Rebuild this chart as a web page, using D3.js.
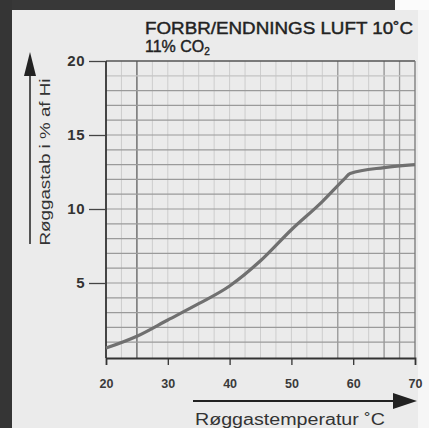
<!DOCTYPE html>
<html>
<head>
<meta charset="utf-8">
<script src="https://cdn.jsdelivr.net/npm/d3@7"></script>
<style>
body{margin:0;padding:0;background:#ececec;}
svg{display:block;font-family:"Liberation Sans",Arial,sans-serif;}
</style>
</head>
<body>
<div id="chart"></div>
<script>
// data
var temps = [20, 25, 30, 35, 40, 45, 50, 55, 58.5, 59.5, 65, 70];
var loss = [0.6, 1.4, 2.5, 3.6, 4.8, 6.5, 8.6, 10.5, 12.0, 12.4, 12.8, 13.0];
var xTicks = [20, 30, 40, 50, 60, 70];
var yTicks = [5, 10, 15, 20];
var title1 = "FORBR/ENDNINGS LUFT 10˚C";
var xTitle = "Røggastemperatur ˚C";
var yTitle = "Røggastab i % af Hi";

var w = 429, h = 428;
var pLeft = 106, pRight = 415, pTop = 61, pBottom = 358;

var svg = d3.select("#chart").append("svg")
  .attr("width", w).attr("height", h);

// page + frame
svg.append("rect").attr("width", w).attr("height", h).attr("fill", "#ebebeb");
svg.append("rect").attr("x", 418).attr("y", 0).attr("width", 11).attr("height", h).attr("fill", "#f6f6f6");
svg.append("rect").attr("x", 0).attr("y", 0).attr("width", 395).attr("height", 10).attr("fill", "#383838");
svg.append("rect").attr("x", 395).attr("y", 0).attr("width", 34).attr("height", 10).attr("fill", "#fbfbfb");
svg.append("rect").attr("x", 0).attr("y", 0).attr("width", 12).attr("height", h).attr("fill", "#353535");

var x = d3.scaleLinear().domain([20, 70]).range([pLeft, pRight]);
var y = d3.scaleLinear().domain([0, 20]).range([357, pTop]);

var g = svg.append("g");

// grid
var vFaint = d3.range(22.5, 70, 2.5);
var vDark = [25, 57.5, 65, 67.5];
g.selectAll(".vf").data(vFaint).enter().append("line")
  .attr("x1", d => x(d)).attr("x2", d => x(d))
  .attr("y1", pTop).attr("y2", pBottom)
  .attr("stroke", "#cdcdcd").attr("stroke-width", 1);
g.selectAll(".vd").data(vDark).enter().append("line")
  .attr("x1", d => x(d)).attr("x2", d => x(d))
  .attr("y1", pTop).attr("y2", pBottom)
  .attr("stroke", d => d == 25 ? "#666" : "#999").attr("stroke-width", 1.3);
g.selectAll(".hl").data(d3.range(1, 20)).enter().append("line")
  .attr("x1", pLeft).attr("x2", pRight)
  .attr("y1", d => y(d)).attr("y2", d => y(d))
  .attr("stroke", d => d == 19 ? "#c4c4c4" : "#9a9a9a").attr("stroke-width", 1.2);

// frame of plot
g.append("line").attr("x1", pLeft).attr("x2", pRight).attr("y1", pTop).attr("y2", pTop)
  .attr("stroke", "#555").attr("stroke-width", 1.5);
g.append("line").attr("x1", pRight).attr("x2", pRight).attr("y1", pTop).attr("y2", pBottom)
  .attr("stroke", "#777").attr("stroke-width", 1.3);

// axes
var xAxis = d3.axisBottom(x).tickValues(xTicks).tickSize(7).tickFormat(d3.format("d"));
var ax = svg.append("g").attr("transform", "translate(0," + pBottom + ")").call(xAxis);
ax.select(".domain").attr("stroke", "#333").attr("stroke-width", 1.8);
ax.selectAll(".tick line").attr("stroke", "#333").attr("stroke-width", 1.3)
  .attr("display", d => (d == 20 || d == 70) ? "none" : null);
ax.selectAll(".tick text").attr("y", 21).attr("dy", "0.71em").attr("font-size", 12.5)
  .attr("font-weight", "bold").attr("fill", "#3a3a3a");

var yAxis = d3.axisLeft(y).tickValues(yTicks).tickSize(17).tickFormat(d3.format("d"));
var ay = svg.append("g").attr("transform", "translate(" + pLeft + ",0)").call(yAxis);
ay.select(".domain").attr("d", "M0," + pTop + "V" + pBottom).attr("stroke", "#333").attr("stroke-width", 1.8);
ay.selectAll(".tick line").attr("stroke", "#444").attr("stroke-width", 1.3);
ay.selectAll(".tick text").attr("x", -21).attr("font-size", 15).attr("font-weight", "bold")
  .attr("letter-spacing", 0.5).attr("fill", "#333");

// curve
var line = d3.line().x(d => x(d[0])).y(d => y(d[1])).curve(d3.curveMonotoneX);
svg.append("path").datum(d3.zip(temps, loss))
  .attr("d", line).attr("fill", "none")
  .attr("stroke", "#707070").attr("stroke-width", 3.2);

// titles
svg.append("text").attr("x", 145).attr("y", 34).attr("font-size", 16)
  .attr("textLength", 268).attr("lengthAdjust", "spacingAndGlyphs")
  .attr("fill", "#222").attr("stroke", "#222").attr("stroke-width", 0.4).text(title1);
var t2 = svg.append("text").attr("x", 145).attr("y", 52).attr("font-size", 16)
  .attr("fill", "#222").attr("stroke", "#222").attr("stroke-width", 0.4);
t2.append("tspan").text("11% CO");
t2.append("tspan").attr("font-size", 10).attr("dy", 3).text("2");

// y arrow and label
svg.append("line").attr("x1", 30).attr("x2", 30).attr("y1", 244).attr("y2", 66)
  .attr("stroke", "#222").attr("stroke-width", 1.5);
svg.append("path").attr("d", "M30,52L24,76L36,76Z").attr("fill", "#222");
svg.append("text").attr("transform", "translate(50,162) rotate(-90)")
  .attr("text-anchor", "middle").attr("font-size", 14)
  .attr("textLength", 167).attr("lengthAdjust", "spacingAndGlyphs")
  .attr("fill", "#333").text(yTitle);

// x arrow and label
svg.append("line").attr("x1", 193).attr("x2", 398).attr("y1", 401).attr("y2", 401)
  .attr("stroke", "#222").attr("stroke-width", 1.8);
svg.append("path").attr("d", "M417,401L393,393L393,409Z").attr("fill", "#222");
svg.append("text").attr("x", 195).attr("y", 425).attr("font-size", 16)
  .attr("textLength", 190).attr("lengthAdjust", "spacingAndGlyphs")
  .attr("fill", "#333").text(xTitle);
</script>
</body>
</html>
